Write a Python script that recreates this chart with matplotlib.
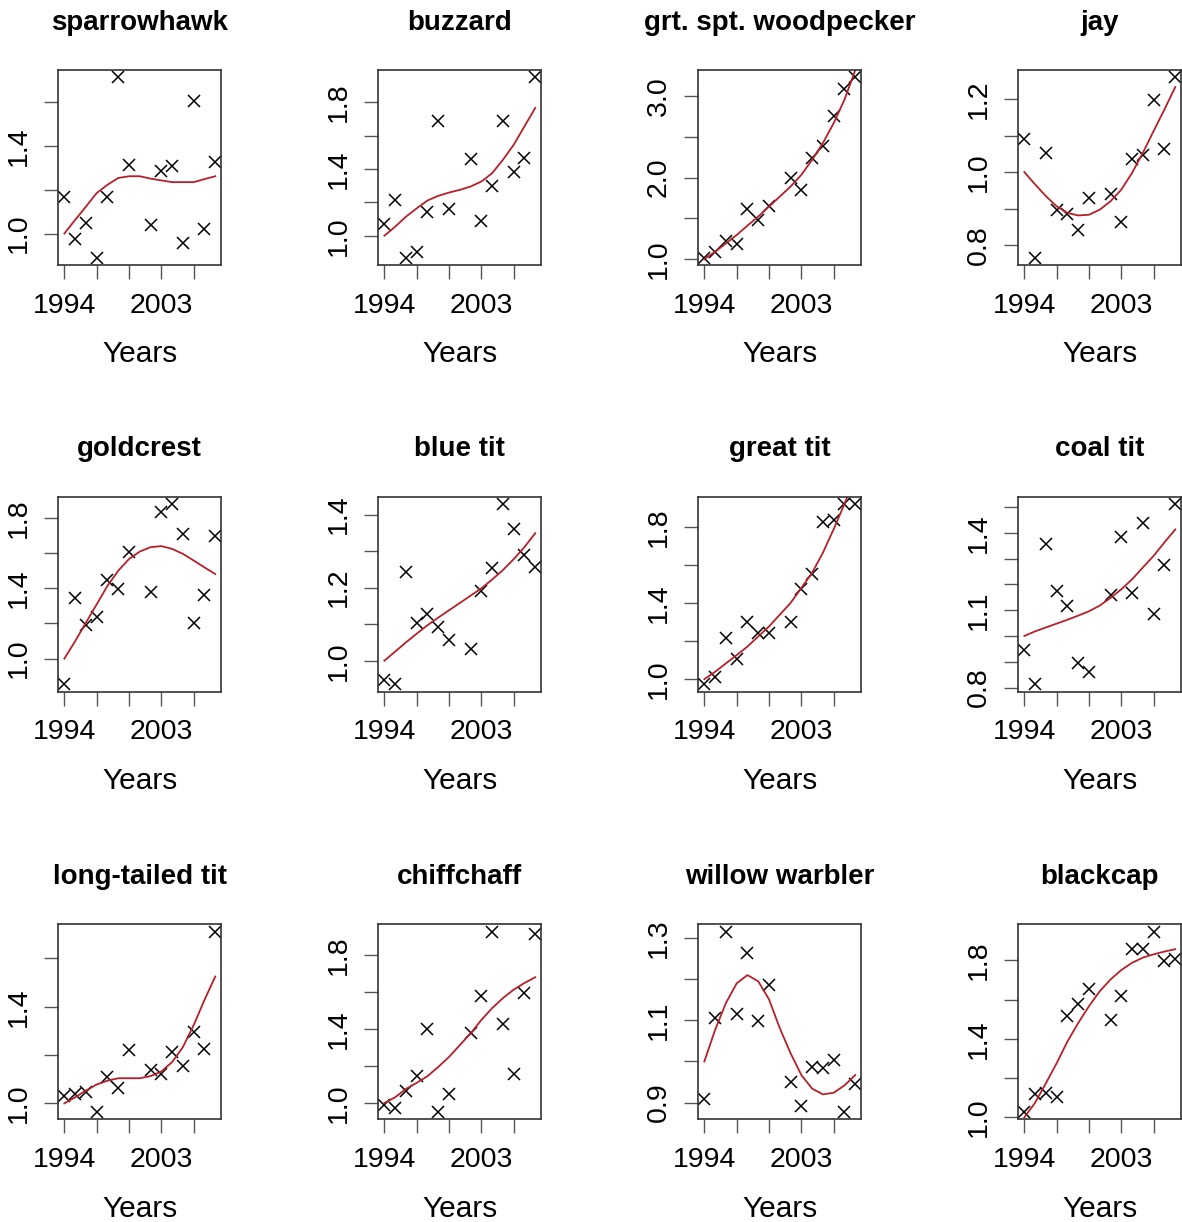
import matplotlib
matplotlib.use("Agg")
import matplotlib.pyplot as plt

plt.rcParams['font.family'] = ['Liberation Sans', 'DejaVu Sans']

W, H = 1182, 1222

# observation years (2001 missing) and years of the fitted trend
years_obs = [1994, 1995, 1996, 1997, 1998, 1999, 2000, 2002, 2003, 2004, 2005, 2006, 2007, 2008]
years_fit = [1994, 1995, 1996, 1997, 1998, 1999, 2000, 2001, 2002, 2003, 2004, 2005, 2006, 2007, 2008]

x_ticks = [1994, 1997, 2000, 2003, 2006]
x_ticklabels = ["1994", "", "", "2003", ""]

species = ["sparrowhawk", "buzzard", "grt. spt. woodpecker", "jay",
           "goldcrest", "blue tit", "great tit", "coal tit",
           "long-tailed tit", "chiffchaff", "willow warbler", "blackcap"]

sparrowhawk_obs = [1.165, 0.977, 1.046, 0.889, 1.165, 1.715, 1.314, 1.040, 1.285, 1.308, 0.958, 1.606, 1.020, 1.326]
sparrowhawk_fit = [1.0, 1.062, 1.123, 1.185, 1.223, 1.254, 1.262, 1.262, 1.251, 1.243, 1.235, 1.235, 1.235, 1.249, 1.262]

buzzard_obs = [1.068, 1.213, 0.868, 0.900, 1.144, 1.690, 1.160, 1.459, 1.090, 1.299, 1.690, 1.381, 1.467, 1.950]
buzzard_fit = [1.0, 1.054, 1.114, 1.164, 1.211, 1.239, 1.259, 1.275, 1.295, 1.325, 1.375, 1.455, 1.545, 1.656, 1.766]

woodpecker_obs = [1.016, 1.090, 1.222, 1.181, 1.616, 1.476, 1.657, 2.002, 1.854, 2.244, 2.392, 2.754, 3.094, 3.234]
woodpecker_fit = [1.0, 1.09, 1.193, 1.296, 1.411, 1.522, 1.645, 1.768, 1.891, 2.035, 2.220, 2.425, 2.671, 2.959, 3.32]

jay_obs = [1.092, 0.765, 1.051, 0.897, 0.886, 0.841, 0.929, 0.940, 0.863, 1.035, 1.048, 1.198, 1.063, 1.260]
jay_fit = [1.0, 0.966, 0.934, 0.906, 0.888, 0.881, 0.883, 0.897, 0.920, 0.952, 0.998, 1.053, 1.113, 1.172, 1.233]

goldcrest_obs = [0.853, 1.346, 1.193, 1.237, 1.445, 1.395, 1.609, 1.380, 1.832, 1.880, 1.710, 1.200, 1.363, 1.697]
goldcrest_fit = [1.0, 1.099, 1.204, 1.309, 1.414, 1.500, 1.567, 1.609, 1.634, 1.640, 1.624, 1.596, 1.558, 1.519, 1.481]

blue_tit_obs = [0.946, 0.935, 1.244, 1.103, 1.128, 1.091, 1.058, 1.032, 1.190, 1.253, 1.429, 1.360, 1.288, 1.257]
blue_tit_fit = [1.0, 1.025, 1.050, 1.074, 1.097, 1.118, 1.138, 1.158, 1.178, 1.198, 1.222, 1.248, 1.278, 1.311, 1.349]

great_tit_obs = [0.972, 1.012, 1.219, 1.106, 1.299, 1.242, 1.242, 1.299, 1.478, 1.552, 1.830, 1.841, 1.924, 1.924]
great_tit_fit = [1.0, 1.039, 1.083, 1.127, 1.172, 1.225, 1.278, 1.340, 1.402, 1.481, 1.561, 1.667, 1.791, 1.924, 2.07]

coal_tit_obs = [0.946, 0.812, 1.357, 1.173, 1.118, 0.895, 0.859, 1.160, 1.383, 1.168, 1.437, 1.086, 1.275, 1.512]
coal_tit_fit = [1.0, 1.018, 1.033, 1.048, 1.063, 1.079, 1.096, 1.118, 1.148, 1.181, 1.220, 1.266, 1.311, 1.363, 1.413]

long_tailed_tit_obs = [1.032, 1.039, 1.049, 0.964, 1.108, 1.063, 1.222, 1.139, 1.122, 1.213, 1.156, 1.294, 1.225, 1.711]
long_tailed_tit_fit = [1.0, 1.025, 1.053, 1.078, 1.094, 1.104, 1.104, 1.104, 1.113, 1.132, 1.171, 1.233, 1.324, 1.428, 1.525]

chiffchaff_obs = [0.991, 0.973, 1.065, 1.147, 1.402, 0.951, 1.047, 1.376, 1.576, 1.927, 1.427, 1.158, 1.593, 1.913]
chiffchaff_fit = [1.0, 1.031, 1.076, 1.109, 1.145, 1.195, 1.249, 1.313, 1.376, 1.449, 1.513, 1.567, 1.613, 1.649, 1.680]

willow_warbler_obs = [0.908, 1.106, 1.316, 1.116, 1.264, 1.099, 1.185, 0.950, 0.892, 0.986, 0.983, 1.004, 0.877, 0.945]
willow_warbler_fit = [1.0, 1.077, 1.142, 1.190, 1.210, 1.195, 1.151, 1.081, 1.020, 0.967, 0.934, 0.920, 0.924, 0.942, 0.967]

blackcap_obs = [1.027, 1.118, 1.126, 1.106, 1.515, 1.578, 1.652, 1.495, 1.618, 1.857, 1.860, 1.947, 1.797, 1.805]
blackcap_fit = [1.0, 1.075, 1.174, 1.276, 1.387, 1.481, 1.567, 1.643, 1.703, 1.751, 1.788, 1.814, 1.831, 1.845, 1.857]

obs_series = [sparrowhawk_obs, buzzard_obs, woodpecker_obs, jay_obs,
              goldcrest_obs, blue_tit_obs, great_tit_obs, coal_tit_obs,
              long_tailed_tit_obs, chiffchaff_obs, willow_warbler_obs, blackcap_obs]
fit_series = [sparrowhawk_fit, buzzard_fit, woodpecker_fit, jay_fit,
              goldcrest_fit, blue_tit_fit, great_tit_fit, coal_tit_fit,
              long_tailed_tit_fit, chiffchaff_fit, willow_warbler_fit, blackcap_fit]

# y ticks per panel; R drops labels that would overlap
y_ticks = [
    [1.0, 1.2, 1.4, 1.6],
    [1.0, 1.2, 1.4, 1.6, 1.8],
    [1.0, 1.5, 2.0, 2.5, 3.0],
    [0.8, 0.9, 1.0, 1.1, 1.2],
    [1.0, 1.2, 1.4, 1.6, 1.8],
    [1.0, 1.1, 1.2, 1.3, 1.4],
    [1.0, 1.2, 1.4, 1.6, 1.8],
    [0.8, 0.9, 1.0, 1.1, 1.2, 1.3, 1.4, 1.5],
    [1.0, 1.2, 1.4, 1.6],
    [1.0, 1.2, 1.4, 1.6, 1.8],
    [0.9, 1.0, 1.1, 1.2, 1.3],
    [1.0, 1.2, 1.4, 1.6, 1.8],
]
y_ticklabels = [
    ["1.0", "", "1.4", ""],
    ["1.0", "", "1.4", "", "1.8"],
    ["1.0", "", "2.0", "", "3.0"],
    ["0.8", "", "1.0", "", "1.2"],
    ["1.0", "", "1.4", "", "1.8"],
    ["1.0", "", "1.2", "", "1.4"],
    ["1.0", "", "1.4", "", "1.8"],
    ["0.8", "", "", "1.1", "", "", "1.4", ""],
    ["1.0", "", "1.4", ""],
    ["1.0", "", "1.4", "", "1.8"],
    ["0.9", "", "1.1", "", "1.3"],
    ["1.0", "", "1.4", "", "1.8"],
]

row_tops = [70, 496.7, 924.3]
col_left0, col_step = 58.3, 320
box_w, box_h = 163, 195

fig = plt.figure(figsize=(W / 100, H / 100), dpi=100)

for i, name in enumerate(species):
    r, c = divmod(i, 4)
    left = (col_left0 + col_step * c) / W
    bottom = 1 - (row_tops[r] + box_h) / H
    ax = fig.add_axes([left, bottom, box_w / W, box_h / H])

    obs = obs_series[i]
    ax.plot(years_obs, obs, ls="none", marker="x", color="black", ms=8.5, mew=1.1)
    ax.plot(years_fit, fit_series[i], color="#b5202a", lw=1.3)

    # R-style 4% padding around the observed points
    lo, hi = min(obs), max(obs)
    pad = 0.04 * (hi - lo)
    ax.set_ylim(lo - pad, hi + pad)
    xpad = 0.04 * (years_obs[-1] - years_obs[0])
    ax.set_xlim(years_obs[0] - xpad, years_obs[-1] + xpad)

    ax.set_xticks(x_ticks)
    ax.set_xticklabels(x_ticklabels)
    ax.set_yticks(y_ticks[i])
    ax.set_yticklabels(y_ticklabels[i], rotation=90, va="center")
    ax.tick_params(direction="out", length=10, width=1, labelsize=20.5, pad=9, color="#555555")
    ax.tick_params(axis="x", pad=10)

    for sp in ax.spines.values():
        sp.set_linewidth(1.2)
        sp.set_color("#333333")

    ax.set_title(name, fontsize=20, fontweight="bold", pad=29)
    ax.set_xlabel("Years", fontsize=21.5, labelpad=15.5)

fig.savefig("out.png", dpi=100)
